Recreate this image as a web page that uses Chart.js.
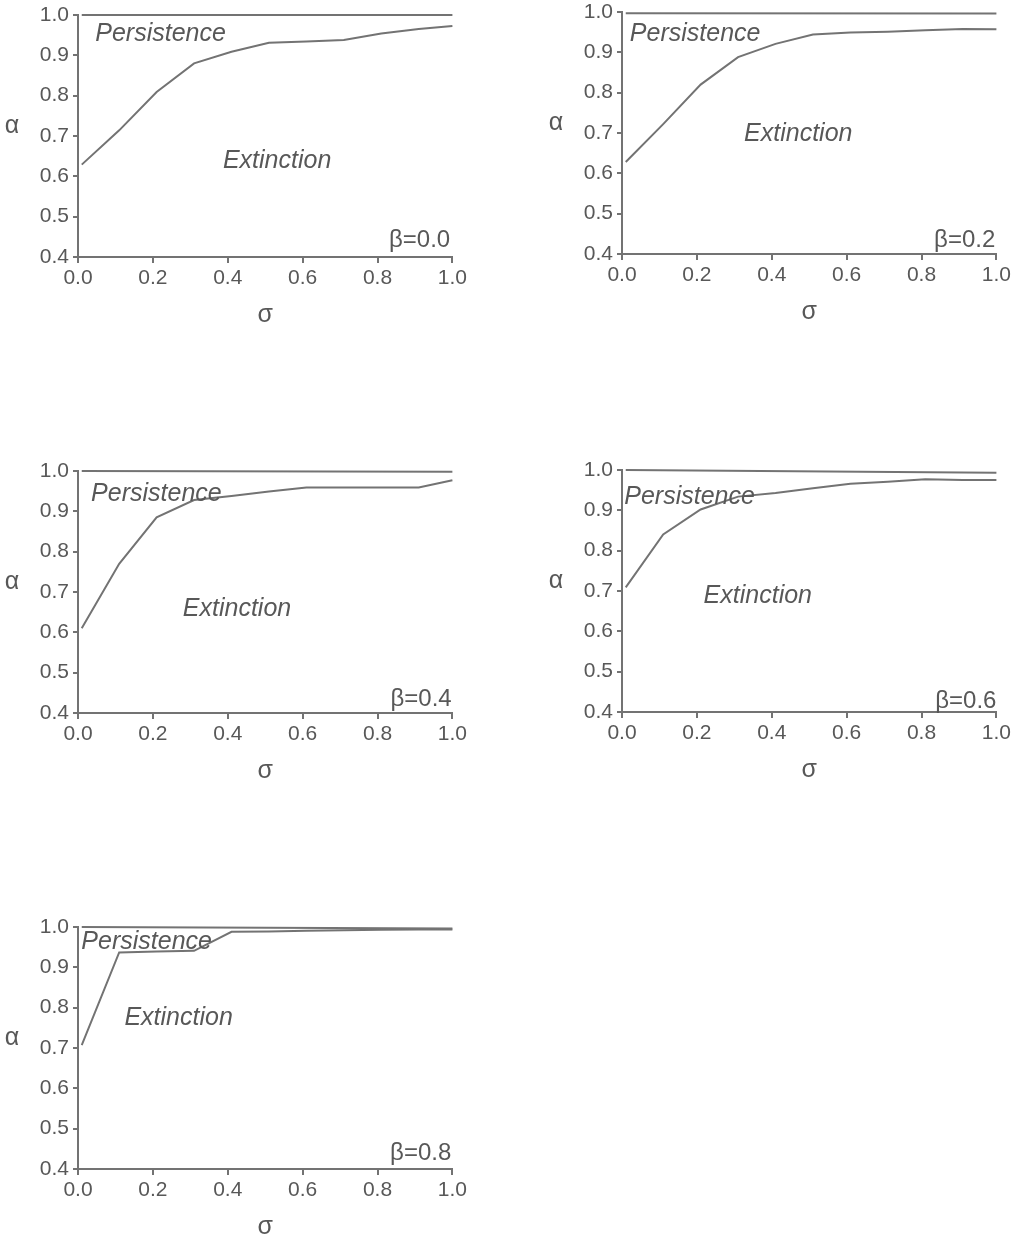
<!DOCTYPE html>
<html>
<head>
<meta charset="utf-8">
<title>Persistence / extinction boundaries</title>
<script src="https://cdn.jsdelivr.net/npm/chart.js@4.4.1/dist/chart.umd.min.js"></script>
<style>
  html, body { margin: 0; padding: 0; background: #fff; }
  body { width: 1013px; height: 1240px; position: relative; overflow: hidden; }
  canvas { position: absolute; }
</style>
</head>
<body>
<canvas id="panel0" width="470" height="340" style="left:0px;top:-5px"></canvas>
<canvas id="panel1" width="470" height="340" style="left:544px;top:-8px"></canvas>
<canvas id="panel2" width="470" height="340" style="left:0px;top:451px"></canvas>
<canvas id="panel3" width="470" height="340" style="left:544px;top:450px"></canvas>
<canvas id="panel4" width="470" height="340" style="left:0px;top:907px"></canvas>
<script>
// sigma positions of the boundary curves (same grid for every panel)
const sigmaCurve = [0.01, 0.11, 0.21, 0.31, 0.41, 0.51, 0.61, 0.71, 0.81, 0.91, 1.0];
const sigmaUpper = [0.01, 1.0];

// lower boundary (alpha) for each beta
const alphaB00 = [0.629, 0.714, 0.809, 0.880, 0.909, 0.931, 0.934, 0.938, 0.954, 0.965, 0.973];
const alphaB02 = [0.628, 0.722, 0.820, 0.888, 0.921, 0.944, 0.949, 0.951, 0.955, 0.958, 0.957];
const alphaB04 = [0.610, 0.770, 0.885, 0.928, 0.938, 0.949, 0.959, 0.959, 0.959, 0.959, 0.977];
const alphaB06 = [0.709, 0.840, 0.902, 0.934, 0.943, 0.955, 0.966, 0.971, 0.977, 0.975, 0.975];
const alphaB08 = [0.707, 0.937, 0.939, 0.941, 0.988, 0.989, 0.991, 0.992, 0.993, 0.994, 0.994];

// upper boundary (alpha) for each beta
const upperB00 = [1.0, 1.0];
const upperB02 = [0.997, 0.996];
const upperB04 = [1.0, 0.998];
const upperB06 = [1.0, 0.993];
const upperB08 = [1.0, 0.996];

const betaLabels = ['β=0.0', 'β=0.2', 'β=0.4', 'β=0.6', 'β=0.8'];
const sigmaTicks = [0.0, 0.2, 0.4, 0.6, 0.8, 1.0];
const alphaTicks = [0.4, 0.5, 0.6, 0.7, 0.8, 0.9, 1.0];

const lowerCurves = [alphaB00, alphaB02, alphaB04, alphaB06, alphaB08];
const upperCurves = [upperB00, upperB02, upperB04, upperB06, upperB08];

// where the region labels sit in each panel, in (sigma, alpha) units
const labelSpots = [
  { persist: [0.046, 0.954], extinct: [0.387, 0.637], beta: [0.994, 0.440] },
  { persist: [0.021, 0.945], extinct: [0.326, 0.697], beta: [0.997, 0.433] },
  { persist: [0.035, 0.944], extinct: [0.280, 0.657], beta: [0.998, 0.433] },
  { persist: [0.006, 0.932], extinct: [0.218, 0.687], beta: [1.000, 0.427] },
  { persist: [0.009, 0.962], extinct: [0.124, 0.774], beta: [0.997, 0.438] }
];

const LINE_COLOR = '#737373';
const TEXT_COLOR = '#585858';
const SANS = '"Liberation Sans", Arial, sans-serif';

const toPoints = (xs, ys) => xs.map((x, i) => ({ x: x, y: ys[i] }));

// region labels, beta label and the upright alpha axis label
const panelText = {
  id: 'panelText',
  afterDatasetsDraw(chart, args, opts) {
    const { ctx, chartArea } = chart;
    const x = chart.scales.x;
    const y = chart.scales.y;
    ctx.save();
    ctx.fillStyle = TEXT_COLOR;
    ctx.textBaseline = 'middle';

    ctx.font = 'italic 25px ' + SANS;
    ctx.textAlign = 'left';
    ctx.fillText('Persistence', x.getPixelForValue(opts.spots.persist[0]), y.getPixelForValue(opts.spots.persist[1]));
    ctx.fillText('Extinction', x.getPixelForValue(opts.spots.extinct[0]), y.getPixelForValue(opts.spots.extinct[1]));

    ctx.font = '24px ' + SANS;
    ctx.textAlign = 'right';
    ctx.fillText(opts.beta, x.getPixelForValue(opts.spots.beta[0]), y.getPixelForValue(opts.spots.beta[1]));

    ctx.font = '25px ' + SANS;
    ctx.textAlign = 'center';
    ctx.fillText('α', chartArea.left - 66, y.getPixelForValue(0.725));
    ctx.restore();
  }
};

function buildPanel(idx) {
  const lineStyle = {
    borderColor: LINE_COLOR,
    borderWidth: 2,
    pointRadius: 0,
    tension: 0,
    fill: false,
    clip: 4
  };

  return new Chart(document.getElementById('panel' + idx), {
    type: 'line',
    data: {
      datasets: [
        { ...lineStyle, label: 'upper', data: toPoints(sigmaUpper, upperCurves[idx]) },
        { ...lineStyle, label: 'lower', data: toPoints(sigmaCurve, lowerCurves[idx]) }
      ]
    },
    options: {
      responsive: false,
      animation: false,
      devicePixelRatio: 1,
      layout: { padding: { top: 20, right: 17, bottom: 5, left: 0 } },
      plugins: {
        legend: { display: false },
        tooltip: { enabled: false },
        panelText: { beta: betaLabels[idx], spots: labelSpots[idx] }
      },
      scales: {
        x: {
          type: 'linear',
          min: 0,
          max: 1,
          afterBuildTicks: (scale) => { scale.ticks = sigmaTicks.map(v => ({ value: v })); },
          afterFit: (scale) => { scale.height = 73; },
          border: { display: true, color: LINE_COLOR, width: 2 },
          grid: { drawOnChartArea: false, drawTicks: true, tickLength: 6, color: LINE_COLOR, lineWidth: 2 },
          ticks: {
            padding: 3,
            color: TEXT_COLOR,
            font: { family: SANS, size: 21 },
            maxRotation: 0,
            callback: (v) => Number(v).toFixed(1)
          },
          title: {
            display: true,
            text: 'σ',
            color: TEXT_COLOR,
            font: { family: SANS, size: 25 },
            padding: { top: 4, bottom: 0 }
          }
        },
        y: {
          type: 'linear',
          min: 0.4,
          max: 1.0,
          afterBuildTicks: (scale) => { scale.ticks = alphaTicks.map(v => ({ value: v })); },
          afterFit: (scale) => { scale.width = 78; },
          border: { display: true, color: LINE_COLOR, width: 2 },
          grid: { drawOnChartArea: false, drawTicks: true, tickLength: 5, color: LINE_COLOR, lineWidth: 2 },
          ticks: {
            padding: 4,
            color: TEXT_COLOR,
            font: { family: SANS, size: 21 },
            callback: (v) => Number(v).toFixed(1)
          }
        }
      }
    },
    plugins: [panelText]
  });
}

[0, 1, 2, 3, 4].forEach(buildPanel);
</script>
</body>
</html>
